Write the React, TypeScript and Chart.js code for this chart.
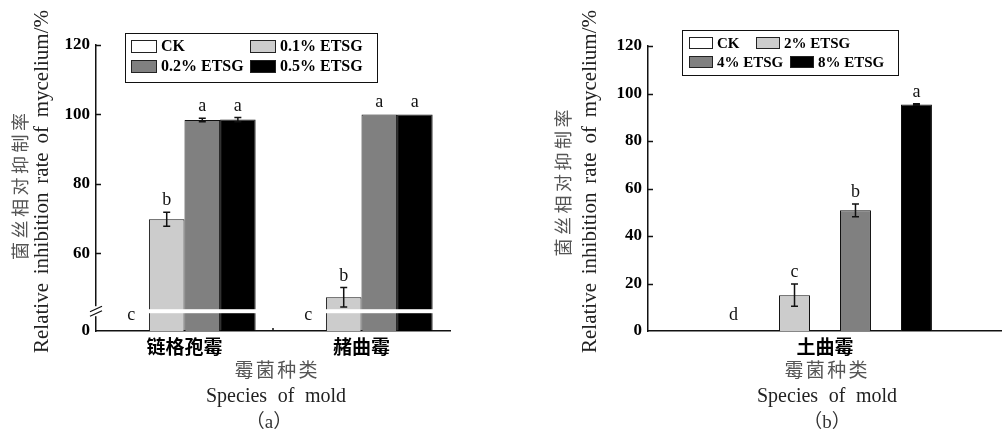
import React, { useEffect, useRef } from 'react';
import { Chart, registerables } from 'chart.js';

Chart.register(...registerables);

// ---------- Panel (a) data ----------
const categoriesA = ['链格孢霉', '赭曲霉'];
const seriesNamesA = ['CK', '0.1% ETSG', '0.2% ETSG', '0.5% ETSG'];
const ckA = [0, 0];
const etsg01A = [69.8, 47.3];
const etsg02A = [98.4, 100];
const etsg05A = [98.5, 100];
const ckErrA = [0, 0];
const etsg01ErrA = [2.0, 2.8];
const etsg02ErrA = [0.5, 0];
const etsg05ErrA = [0.6, 0];
const ckLettersA = ['c', 'c'];
const etsg01LettersA = ['b', 'b'];
const etsg02LettersA = ['a', 'a'];
const etsg05LettersA = ['a', 'a'];
const yTicksA = [0, 60, 80, 100, 120];

// ---------- Panel (b) data ----------
const categoriesB = ['土曲霉'];
const seriesNamesB = ['CK', '2% ETSG', '4% ETSG', '8% ETSG'];
const ckB = [0];
const etsg2B = [15.1];
const etsg4B = [50.8];
const etsg8B = [95.4];
const ckErrB = [0];
const etsg2ErrB = [4.7];
const etsg4ErrB = [2.7];
const etsg8ErrB = [0.3];
const ckLettersB = ['d'];
const etsg2LettersB = ['c'];
const etsg4LettersB = ['b'];
const etsg8LettersB = ['a'];
const yTicksB = [0, 20, 40, 60, 80, 100, 120];

const FILLS = ['#ffffff', '#cccccc', '#808080', '#000000'];
const SERIF = '"Liberation Serif", "Times New Roman", serif';
const CJK = '"Noto Sans CJK SC", sans-serif';

type TextItem = {
  text: string; x: number; y: number; font: string; color: string;
  rotate?: boolean; span?: number; mode?: 'chars' | 'words';
};

function drawSpaced(ctx: CanvasRenderingContext2D, t: TextItem) {
  ctx.save();
  ctx.font = t.font;
  ctx.fillStyle = t.color;
  ctx.textBaseline = 'middle';
  ctx.translate(t.x, t.y);
  if (t.rotate) ctx.rotate(-Math.PI / 2);
  if (t.span && t.mode) {
    const pieces = t.mode === 'chars' ? Array.from(t.text) : t.text.split(' ');
    const widths = pieces.map((p) => ctx.measureText(p).width);
    const sum = widths.reduce((a, b) => a + b, 0);
    const gap = pieces.length > 1 ? Math.max(0, (t.span - sum) / (pieces.length - 1)) : 0;
    const total = sum + gap * (pieces.length - 1);
    let x = -total / 2;
    ctx.textAlign = 'left';
    pieces.forEach((p, i) => {
      ctx.fillText(p, x, 0);
      x += widths[i] + gap;
    });
  } else {
    ctx.textAlign = 'center';
    ctx.fillText(t.text, 0, 0);
  }
  ctx.restore();
}

type LegendCfg = {
  x: number; y: number; w: number; h: number;
  items: { dx: number; cy: number }[];
  sw: number; sh: number; font: string;
};

type PanelCfg = {
  errors: number[][];
  letters: string[][];
  legend: LegendCfg;
  texts: TextItem[];
  axisBreak?: { value: number; band: number; gap: number };
  catTicks?: boolean;
};

function makeDecor(cfg: PanelCfg) {
  return {
    id: 'decor',
    afterDatasetsDraw(chart: any) {
      const ctx: CanvasRenderingContext2D = chart.ctx;
      const y = chart.scales.y;
      const area = chart.chartArea;
      if (cfg.axisBreak) {
        const by = y.getPixelForValue(cfg.axisBreak.value);
        const first = chart.getDatasetMeta(1);
        const last = chart.getDatasetMeta(chart.data.datasets.length - 1);
        ctx.save();
        ctx.fillStyle = '#ffffff';
        first.data.forEach((el: any, j: number) => {
          const le = last.data[j] as any;
          const l = el.x - el.width / 2 - 1;
          const r = le.x + le.width / 2 + 1;
          ctx.fillRect(l, by - cfg.axisBreak!.band, r - l, cfg.axisBreak!.band * 2);
        });
        ctx.restore();
      }
      chart.data.datasets.forEach((ds: any, i: number) => {
        const meta = chart.getDatasetMeta(i);
        meta.data.forEach((el: any, j: number) => {
          const v = ds.data[j];
          const e = cfg.errors[i][j];
          const cx = el.x;
          ctx.save();
          if (e > 0) {
            const yt = y.getPixelForValue(v + e);
            const yb = y.getPixelForValue(v - e);
            ctx.strokeStyle = '#111';
            ctx.lineWidth = 1.5;
            ctx.beginPath();
            ctx.moveTo(cx, yt); ctx.lineTo(cx, yb);
            ctx.moveTo(cx - 3.5, yt); ctx.lineTo(cx + 3.5, yt);
            ctx.moveTo(cx - 3.5, yb); ctx.lineTo(cx + 3.5, yb);
            ctx.stroke();
          }
          const top = Math.min(y.getPixelForValue(v + e), area.bottom);
          const off = v === 0 ? 11 : 7;
          ctx.font = `18px ${SERIF}`;
          ctx.fillStyle = '#111';
          ctx.textAlign = 'center';
          ctx.textBaseline = 'alphabetic';
          ctx.fillText(cfg.letters[i][j], cx, top - off);
          ctx.restore();
        });
      });
    },
    afterDraw(chart: any) {
      const ctx: CanvasRenderingContext2D = chart.ctx;
      const y = chart.scales.y;
      const x = chart.scales.x;
      const area = chart.chartArea;
      ctx.save();
      ctx.strokeStyle = '#111';
      ctx.lineWidth = 1.5;
      ctx.beginPath();
      y.ticks.forEach((t: any) => {
        if (t.value <= y.min) return;
        const py = Math.round(y.getPixelForValue(t.value)) + 0.5;
        ctx.moveTo(area.left, py);
        ctx.lineTo(area.left + 5, py);
      });
      if (cfg.catTicks) {
        for (let j = 1; j < chart.data.labels.length; j++) {
          const px = (x.getPixelForTick(j - 1) + x.getPixelForTick(j)) / 2;
          ctx.moveTo(px, area.bottom);
          ctx.lineTo(px, area.bottom - 3);
        }
      }
      ctx.stroke();
      ctx.restore();
      if (cfg.axisBreak) {
        const by = y.getPixelForValue(cfg.axisBreak.value);
        const g = cfg.axisBreak.gap;
        ctx.save();
        ctx.fillStyle = '#ffffff';
        ctx.fillRect(area.left - 3, by - g, 6, g * 2);
        ctx.strokeStyle = '#111';
        ctx.lineWidth = 1.3;
        ctx.beginPath();
        ctx.moveTo(area.left - 6, by + 0.5);
        ctx.lineTo(area.left + 6, by - g);
        ctx.moveTo(area.left - 6, by + g);
        ctx.lineTo(area.left + 6, by - 0.5);
        ctx.stroke();
        ctx.restore();
      }
      const L = cfg.legend;
      ctx.save();
      ctx.strokeStyle = '#111';
      ctx.lineWidth = 1;
      ctx.strokeRect(L.x + 0.5, L.y + 0.5, L.w, L.h);
      ctx.font = L.font;
      ctx.textBaseline = 'middle';
      ctx.textAlign = 'left';
      chart.data.datasets.forEach((ds: any, i: number) => {
        const it = L.items[i];
        const sx = L.x + it.dx;
        const sy = Math.round(it.cy - L.sh / 2);
        ctx.fillStyle = ds.backgroundColor;
        ctx.fillRect(sx, sy, L.sw, L.sh);
        ctx.strokeStyle = '#222';
        ctx.strokeRect(sx + 0.5, sy + 0.5, L.sw - 1, L.sh - 1);
        ctx.fillStyle = '#000';
        ctx.fillText(ds.label, sx + L.sw + 4, it.cy + 1);
      });
      ctx.restore();
      cfg.texts.forEach((t) => drawSpaced(ctx, t));
    },
  };
}

function buildConfig(
  categories: string[], names: string[], series: number[][], opts: {
    min: number; max: number; ticks: number[]; zeroAt: number; catPct: number; barPct: number;
    padding: { left: number; right: number; top: number; bottom: number };
    decor: PanelCfg;
  }
): any {
  return {
    type: 'bar',
    data: {
      labels: categories,
      datasets: series.map((d, i) => ({
        label: names[i],
        data: d,
        backgroundColor: FILLS[i],
        borderColor: '#111',
        borderWidth: 1,
        borderSkipped: 'start',
        categoryPercentage: opts.catPct,
        barPercentage: opts.barPct,
      })),
    },
    options: {
      animation: false,
      responsive: false,
      devicePixelRatio: 1,
      layout: { padding: opts.padding },
      plugins: { legend: { display: false }, tooltip: { enabled: false } },
      scales: {
        x: {
          type: 'category',
          z: 1,
          grid: { display: false, drawTicks: false },
          border: { display: true, color: '#111', width: 1.5 },
          ticks: { color: '#000', padding: 4, font: { family: CJK, size: 19, weight: 'bold' } },
          afterFit: (s: any) => { s.height = 104; },
        },
        y: {
          type: 'linear',
          z: 1,
          min: opts.min,
          max: opts.max,
          grid: { display: false, drawTicks: false },
          border: { display: true, color: '#111', width: 1.5 },
          afterBuildTicks: (s: any) => {
            s.ticks = opts.ticks.map((v) => ({ value: v === 0 ? opts.zeroAt : v }));
          },
          ticks: {
            color: '#000',
            padding: 6,
            font: { family: SERIF, size: 17, weight: 'bold' },
            callback: (v: number) => (v === opts.zeroAt ? '0' : String(v)),
          },
          afterFit: (s: any) => { s.width = 40; },
        },
      },
    },
    plugins: [makeDecor(opts.decor)],
  };
}

function Panel({ left, width, config }: { left: number; width: number; config: () => any }) {
  const ref = useRef<HTMLCanvasElement>(null);
  useEffect(() => {
    const chart = new Chart(ref.current as HTMLCanvasElement, config());
    return () => chart.destroy();
  }, []);
  return (
    <canvas
      ref={ref}
      width={width}
      height={435}
      style={{ position: 'absolute', left, top: 0, width, height: 435 }}
    />
  );
}

const configA = () =>
  buildConfig(categoriesA, seriesNamesA, [ckA, etsg01A, etsg02A, etsg05A], {
    min: 37.6, max: 120, ticks: yTicksA, zeroAt: 37.6, catPct: 0.804, barPct: 1.0,
    padding: { left: 56, right: 50, top: 45, bottom: 0 },
    decor: {
      errors: [ckErrA, etsg01ErrA, etsg02ErrA, etsg05ErrA],
      letters: [ckLettersA, etsg01LettersA, etsg02LettersA, etsg05LettersA],
      axisBreak: { value: 43.3, band: 2, gap: 5 },
      catTicks: true,
      legend: {
        x: 125, y: 33, w: 252, h: 49, sw: 26, sh: 13,
        font: `bold 16px ${SERIF}`,
        items: [{ dx: 6, cy: 46 }, { dx: 125, cy: 46 }, { dx: 6, cy: 66 }, { dx: 125, cy: 66 }],
      },
      texts: [
        { text: '菌丝相对抑制率', x: 20, y: 186.5, font: `18px ${CJK}`, color: '#555', rotate: true, span: 147, mode: 'chars' },
        { text: 'Relative inhibition rate of mycelium/%', x: 42, y: 181.5, font: `21px ${SERIF}`, color: '#222', rotate: true, span: 343, mode: 'words' },
        { text: '霉菌种类', x: 276, y: 370, font: `19px ${CJK}`, color: '#555', span: 83, mode: 'chars' },
        { text: 'Species of mold', x: 276, y: 397, font: `20px ${SERIF}`, color: '#222', span: 140, mode: 'words' },
        { text: '（a）', x: 269, y: 423, font: `19px ${SERIF}, ${CJK}`, color: '#333' },
      ],
    },
  });

const configB = () =>
  buildConfig(categoriesB, seriesNamesB, [ckB, etsg2B, etsg4B, etsg8B], {
    min: 0, max: 120, ticks: yTicksB, zeroAt: 0, catPct: 0.689, barPct: 0.508,
    padding: { left: 108, right: 0, top: 46, bottom: 0 },
    decor: {
      errors: [ckErrB, etsg2ErrB, etsg4ErrB, etsg8ErrB],
      letters: [ckLettersB, etsg2LettersB, etsg4LettersB, etsg8LettersB],
      legend: {
        x: 182, y: 30, w: 216, h: 45, sw: 24, sh: 12,
        font: `bold 15px ${SERIF}`,
        items: [{ dx: 7, cy: 43 }, { dx: 74, cy: 43 }, { dx: 7, cy: 62 }, { dx: 108, cy: 62 }],
      },
      texts: [
        { text: '菌丝相对抑制率', x: 63, y: 183, font: `18px ${CJK}`, color: '#555', rotate: true, span: 147, mode: 'chars' },
        { text: 'Relative inhibition rate of mycelium/%', x: 90, y: 181.5, font: `21px ${SERIF}`, color: '#222', rotate: true, span: 343, mode: 'words' },
        { text: '霉菌种类', x: 326, y: 370, font: `19px ${CJK}`, color: '#555', span: 83, mode: 'chars' },
        { text: 'Species of mold', x: 327, y: 397, font: `20px ${SERIF}`, color: '#222', span: 140, mode: 'words' },
        { text: '（b）', x: 327, y: 423, font: `19px ${SERIF}, ${CJK}`, color: '#333' },
      ],
    },
  });

export default function App() {
  return (
    <div style={{ position: 'absolute', left: 0, top: 0, width: 1002, height: 435, background: '#fff', overflow: 'hidden' }}>
      <Panel left={0} width={500} config={configA} />
      <Panel left={500} width={502} config={configB} />
    </div>
  );
}
